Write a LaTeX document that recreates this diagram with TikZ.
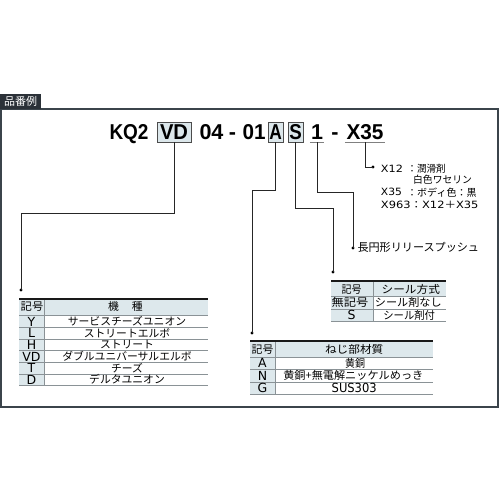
\documentclass[tikz,border=0pt]{standalone}
\usepackage{fontspec}
\usepackage{graphicx}
\setmainfont{Noto Sans CJK JP}
\newfontfamily\lat{DejaVu Sans}
\newfontfamily\tfont{Liberation Sans}
\newcommand{\fw}[2]{\resizebox{#1pt}{\height}{#2}}
\definecolor{tblbg}{HTML}{DDE8EC}
\definecolor{boxbg}{HTML}{DCE7EB}
\definecolor{hdrc}{HTML}{2B3138}
\definecolor{framec}{HTML}{3B444B}
\definecolor{gridc}{HTML}{8A9296}
\begin{document}
\begin{tikzpicture}[x=1pt,y=-1pt,
  jt/.style={inner sep=0pt, font=\fontsize{10.8}{13}\selectfont, text height=9.5pt, text depth=1.3pt},
  lt/.style={inner sep=0pt, font=\lat\fontsize{12.5}{14}\selectfont, text height=9.1pt, text depth=0pt},
  jr/.style={inner sep=0pt, anchor=west, font=\fontsize{10}{12}\selectfont, text height=8.8pt, text depth=1.2pt},
  lr/.style={inner sep=0pt, anchor=west, font=\lat\fontsize{10}{12}\selectfont, text height=7.3pt, text depth=0pt},
  tbox/.style={draw=gray!60!black, fill=boxbg, line width=0.6pt, minimum height=20pt, inner sep=0pt, text height=15.2pt, text depth=0pt, font=\tfont\fontsize{21.5}{24}\selectfont\bfseries},
  tplain/.style={inner sep=0pt, minimum height=20pt, text height=15.2pt, text depth=0pt, font=\tfont\fontsize{21.5}{24}\selectfont\bfseries},
  conn/.style={line width=0.6pt, draw=black!85},
  dotn/.style={circle, fill=black, inner sep=0pt, minimum size=3.2pt},
  topline/.style={line width=1.3pt, draw=black!90},
  gline/.style={line width=0.5pt, draw=gridc}
]
\fill[white] (0,0) rectangle (500,500);
\useasboundingbox (0,0) rectangle (500,500);

% frame and header label
\draw[framec, line width=1.6pt] (1,109) rectangle (498,407);
\node[fill=hdrc, text=white, minimum width=41pt, minimum height=15pt, inner sep=0pt, anchor=north west, font=\fontsize{11}{12}\selectfont] (hdr) at (0,94) {品番例};

% title
\node[tplain] (kq2) at (129,132) {\fw{39}{KQ2}};
\node[tbox, minimum width=34pt] (vd) at (174,132) {\fw{28}{VD}};
\node[tplain] (n04) at (211.5,132) {\fw{24}{04}};
\node[tplain] (d1) at (232.5,132) {-};
\node[tplain] (n01) at (254,132) {\fw{23}{01}};
\node[tbox, minimum width=15pt] (a) at (275.5,132) {\fw{12.5}{A}};
\node[tbox, minimum width=15pt] (s) at (295.5,132) {\fw{12.5}{S}};
\node[tplain, minimum width=14pt] (one) at (317,132) {1};
\node[tplain] (d2) at (335,132) {-};
\node[tplain, minimum width=40pt] (x35) at (365,132) {\fw{37}{X35}};
\draw[gray, line width=0.8pt] (one.south west) -- (one.south east);
\draw[gray, line width=0.8pt] (x35.south west) -- (x35.south east);

% dots
\node[dotn] (pVD) at (21,290) {};
\node[dotn] (pA) at (252,333) {};
\node[dotn] (pS) at (333,272) {};
\node[dotn] (pOne) at (353,248) {};
\node[dotn] (pX) at (373,167) {};

% connectors
\draw[conn] (vd.south) -- ++(0,71) -| (pVD.center);
\draw[conn] (a.south) -- ++(0,48) -| (pA.center);
\draw[conn] (s.south) -- ++(0,66) -| (pS.center);
\draw[conn] (one.south) -- ++(0,50) -| (pOne.center);
\draw[conn] (x35.south) |- (pX.center);

% right texts
\node[jr, font=\fontsize{11.1}{13}\selectfont] (rel) at (357.3,248) {長円形リリースプッシュ};
\node[lr] (x12) at (380.7,168.5) {\fw{22}{X12}};
\node[jr] (x12t) at (407,168.5) {：\fw{28.5}{潤滑剤}};
\node[jr] (x12u) at (413,180) {\fw{58.7}{白色ワセリン}};
\node[lr] (x35o) at (380.7,192.3) {\fw{21}{X35}};
\node[jr] (x35t) at (407,192.3) {：ボディ色：黒};
\node[lr] (x963) at (380.7,205) {\fw{97.6}{X963{\rmfamily：}X12{\rmfamily＋}X35}};

% table 1
\fill[tblbg] (19,299) rectangle (208,315.7);
\fill[tblbg] (19,315.7) rectangle (44,385.6);
\foreach \k in {0,...,6} {\draw[gline] (19,{315.7+11.65*\k}) -- (208,{315.7+11.65*\k});}
\draw[gline] (44,299) -- (44,385.6);
\draw[topline] (19,299) -- (208,299);
\node[jt] (t1h1) at (32,306.8) {\fw{22.6}{記号}};
\node[jt] (t1h2) at (125.5,306.8) {機\hspace{13pt}種};
\foreach \k/\c/\d in {0/Y/サービスチーズユニオン, 1/L/ストリートエルボ, 2/H/ストリート, 3/VD/ダブルユニバーサルエルボ, 4/T/チーズ, 5/D/デルタユニオン} {
  \node[lt] (t1a\k) at (31.5,{321.5+11.65*\k}) {\c};
  \node[jt] (t1b\k) at (127,{321.5+11.65*\k}) {\d};
}

% table 2
\fill[tblbg] (331,281) rectangle (446,296.5);
\fill[tblbg] (331,296.5) rectangle (373,321.1);
\draw[gline] (331,296.5) -- (446,296.5);
\draw[gline] (331,308.8) -- (446,308.8);
\draw[gline] (331,321.1) -- (446,321.1);
\draw[gline] (373,281) -- (373,321.1);
\draw[topline] (331,281) -- (446,281);
\node[jt] (t2h1) at (351.7,289.5) {\fw{20}{記号}};
\node[jt] (t2h2) at (410.8,289.5) {\fw{58.3}{シール方式}};
\node[jt] (t2a0) at (350,302.7) {\fw{36.7}{無記号}};
\node[jt] (t2b0) at (408.3,302.7) {\fw{66.7}{シール剤なし}};
\node[lt] (t2a1) at (351.7,315) {S};
\node[jt] (t2b1) at (409.2,315) {\fw{51.7}{シール剤付}};

% table 3
\fill[tblbg] (250,341) rectangle (433,357);
\fill[tblbg] (250,357) rectangle (275,394.5);
\draw[gline] (250,357) -- (433,357);
\draw[gline] (250,369.5) -- (433,369.5);
\draw[gline] (250,382) -- (433,382);
\draw[gline] (250,394.5) -- (433,394.5);
\draw[gline] (275,341) -- (275,394.5);
\draw[topline] (250,341) -- (433,341);
\node[jt] (t3h1) at (262.5,349) {\fw{21.7}{記号}};
\node[jt] (t3h2) at (354.2,349) {\fw{58.3}{ねじ部材質}};
\node[lt] (t3a0) at (262.5,363.3) {A};
\node[jt] (t3b0) at (355,363.3) {\fw{20}{黄銅}};
\node[lt] (t3a1) at (262.5,375.8) {N};
\node[jt] (t3b1) at (353.3,375.8) {\fw{140}{黄銅+無電解ニッケルめっき}};
\node[lt] (t3a2) at (262.5,388.3) {G};
\node[lt] (t3b2) at (354.2,388.3) {\fw{45}{SUS303}};
\end{tikzpicture}
\end{document}
